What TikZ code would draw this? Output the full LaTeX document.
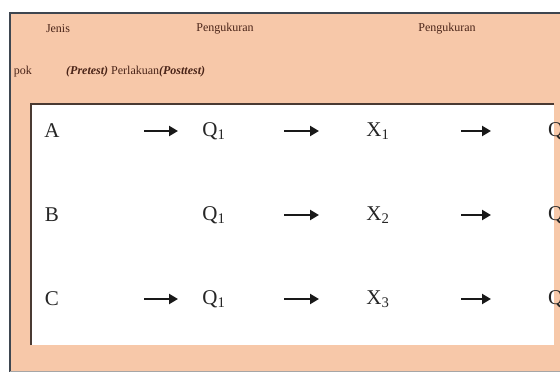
\documentclass[tikz,border=0pt]{standalone}
\usepackage{fontspec}
\setmainfont{Liberation Serif}
\usetikzlibrary{arrows.meta}
\definecolor{peach}{HTML}{F7C8A9}
\definecolor{frame}{HTML}{3E4650}
\definecolor{inner}{HTML}{4A3A32}
\definecolor{hdr}{HTML}{4A2418}
\tikzset{
  hdrtext/.style={font=\fontsize{12}{13}\selectfont, text=hdr, inner sep=0pt},
  cell/.style={font=\fontsize{21}{24}\selectfont, inner sep=0pt, text=black!85},
  flow/.style={-{Triangle[length=9pt,width=10pt]}, line width=2.8pt, black!90}
}
\begin{document}
\begin{tikzpicture}[x=1pt,y=-1pt]
\useasboundingbox (0,0) rectangle (560,372);
\clip (0,0) rectangle (560,372);
% outer panel
\fill[peach] (10,12) rectangle (560,372);
\draw[frame, line width=2pt] (10,372) -- (10,13) -- (560,13);
\draw[gray!70, line width=1pt] (10,371) -- (560,371);
% header texts
\node[hdrtext] (h1) at (58,29) {Jenis};
\node[hdrtext] (h2) at (225,29) {Pengukuran};
\node[hdrtext] (h3) at (447,29) {Pengukuran};
\begin{scope}
\clip (14,50) rectangle (560,95);
\node[hdrtext, anchor=east] (h4) at (32,72) {Kelompok};
\end{scope}
\node[hdrtext, anchor=west] (h5) at (66,72) {\textbf{\textit{(Pretest)}} Perlakuan\textbf{\textit{(Posttest)}}};
% inner white box
\fill[white] (31,104) rectangle (554,345);
\draw[inner, line width=1.8pt] (31,345) -- (31,104) -- (554,104);
% row A
\node[cell] (a) at (52,131) {A};
\node[cell] (aq) at (214,131) {Q\textsubscript{1}};
\node[cell] (ax) at (378,131) {X\textsubscript{1}};
\node[cell, anchor=west] (aq2) at (548,131) {Q\textsubscript{2}};
% row B
\node[cell] (b) at (52,215) {B};
\node[cell] (bq) at (214,215) {Q\textsubscript{1}};
\node[cell] (bx) at (378,215) {X\textsubscript{2}};
\node[cell, anchor=west] (bq2) at (548,215) {Q\textsubscript{2}};
% row C
\node[cell] (c) at (52,299) {C};
\node[cell] (cq) at (214,299) {Q\textsubscript{1}};
\node[cell] (cx) at (378,299) {X\textsubscript{3}};
\node[cell, anchor=west] (cq2) at (548,299) {Q\textsubscript{2}};
% arrow coordinates
\foreach \r/\y in {a/131,b/215,c/299}{
  \coordinate (\r s1) at (144,\y); \coordinate (\r e1) at (178,\y);
  \coordinate (\r s2) at (284,\y); \coordinate (\r e2) at (319,\y);
  \coordinate (\r s3) at (461,\y); \coordinate (\r e3) at (491,\y);
}
\draw[flow] (as1) -- (ae1);
\draw[flow] (as2) -- (ae2);
\draw[flow] (as3) -- (ae3);
\draw[flow] (bs2) -- (be2);
\draw[flow] (bs3) -- (be3);
\draw[flow] (cs1) -- (ce1);
\draw[flow] (cs2) -- (ce2);
\draw[flow] (cs3) -- (ce3);
\end{tikzpicture}
\end{document}
